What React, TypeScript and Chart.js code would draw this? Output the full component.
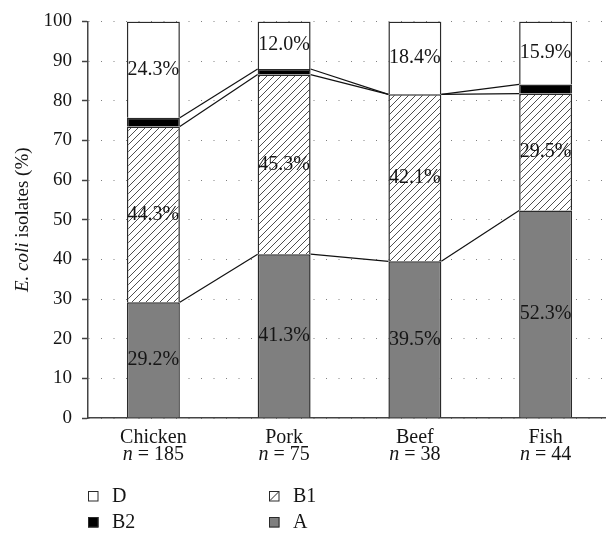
import React, { useEffect, useRef } from "react";
import { Chart, registerables } from "chart.js";

Chart.register(...registerables);

const categories = ["Chicken", "Pork", "Beef", "Fish"];
const sampleSizes = ["185", "75", "38", "44"];
const seriesNames = ["A", "B1", "B2", "D"];
const valuesA = [29.2, 41.3, 39.5, 52.3];
const valuesB1 = [44.3, 45.3, 42.1, 29.5];
const valuesB2 = [2.2, 1.4, 0, 2.3];
const valuesD = [24.3, 12.0, 18.4, 15.9];
const yTickValues = [0, 10, 20, 30, 40, 50, 60, 70, 80, 90, 100];
const yTitleItalic = "E. coli";
const yTitleRest = " isolates (%)";
const legendColumns = [
  ["D", "B2"],
  ["B1", "A"],
];

const FONT = '"Liberation Serif", "DejaVu Serif", serif';
const TEXT = "#151515";
const EDGE = "#2a2a2a";

function makeHatch(ctx: CanvasRenderingContext2D): CanvasPattern | string {
  const s = 7;
  const p = document.createElement("canvas");
  p.width = s;
  p.height = s;
  const c = p.getContext("2d");
  if (!c) return "#fff";
  c.fillStyle = "#ffffff";
  c.fillRect(0, 0, s, s);
  c.strokeStyle = "#222";
  c.lineWidth = 0.8;
  c.beginPath();
  c.moveTo(0, s);
  c.lineTo(s, 0);
  c.moveTo(-1, 1);
  c.lineTo(1, -1);
  c.moveTo(s - 1, s + 1);
  c.lineTo(s + 1, s - 1);
  c.stroke();
  return ctx.createPattern(p, "repeat") || "#fff";
}

type Part = { text: string; italic: boolean };

function drawMixed(
  ctx: CanvasRenderingContext2D,
  parts: Part[],
  cx: number,
  y: number,
  size: number
) {
  const fonts = parts.map((p) => `${p.italic ? "italic " : ""}${size}px ${FONT}`);
  let total = 0;
  const widths = parts.map((p, k) => {
    ctx.font = fonts[k];
    const w = ctx.measureText(p.text).width;
    total += w;
    return w;
  });
  let x = cx - total / 2;
  ctx.textAlign = "left";
  parts.forEach((p, k) => {
    ctx.font = fonts[k];
    ctx.fillText(p.text, x, y);
    x += widths[k];
  });
}

const decorPlugin = {
  id: "decor",
  afterDatasetsDraw(chart: any) {
    const ctx: CanvasRenderingContext2D = chart.ctx;
    ctx.save();
    // connecting lines between stacked segment tops
    ctx.strokeStyle = "#111";
    ctx.lineWidth = 1.2;
    for (let d = 0; d < 3; d++) {
      const meta = chart.getDatasetMeta(d);
      for (let i = 0; i < meta.data.length - 1; i++) {
        const a: any = meta.data[i];
        const b: any = meta.data[i + 1];
        ctx.beginPath();
        ctx.moveTo(a.x + a.width / 2, a.y);
        ctx.lineTo(b.x - b.width / 2, b.y);
        ctx.stroke();
      }
    }
    // value labels
    ctx.font = `20px ${FONT}`;
    ctx.fillStyle = TEXT;
    ctx.textAlign = "center";
    ctx.textBaseline = "middle";
    chart.data.datasets.forEach((ds: any, d: number) => {
      if (ds.label === "B2") return;
      const meta = chart.getDatasetMeta(d);
      meta.data.forEach((el: any, i: number) => {
        const v = ds.data[i] as number;
        ctx.fillText(v.toFixed(1) + "%", el.x, (el.y + el.base) / 2);
      });
    });
    ctx.restore();
  },
  afterDraw(chart: any) {
    const ctx: CanvasRenderingContext2D = chart.ctx;
    const area = chart.chartArea;
    const xs = chart.scales.x;
    ctx.save();
    ctx.fillStyle = TEXT;
    ctx.textBaseline = "alphabetic";
    // category labels
    categories.forEach((cat, i) => {
      const cx = xs.getPixelForValue(i);
      drawMixed(ctx, [{ text: cat, italic: false }], cx, area.bottom + 25, 20);
      drawMixed(
        ctx,
        [
          { text: "n", italic: true },
          { text: " = " + sampleSizes[i], italic: false },
        ],
        cx,
        area.bottom + 42,
        20
      );
    });
    // y axis title
    ctx.save();
    ctx.translate(28, (area.top + area.bottom) / 2);
    ctx.rotate(-Math.PI / 2);
    drawMixed(
      ctx,
      [
        { text: yTitleItalic, italic: true },
        { text: yTitleRest, italic: false },
      ],
      0,
      0,
      19
    );
    ctx.restore();
    // legend
    const colX = [88, 269];
    const rowBase = [area.bottom + 84, area.bottom + 110];
    legendColumns.forEach((col, c) => {
      col.forEach((name, r) => {
        const bx = colX[c];
        const by = rowBase[r] - 11;
        const bs = 10.5;
        const ds = chart.data.datasets.find((x: any) => x.label === name);
        ctx.lineWidth = 1;
        ctx.strokeStyle = EDGE;
        if (name === "B1") {
          ctx.fillStyle = "#fff";
          ctx.fillRect(bx, by, bs, bs);
          ctx.beginPath();
          ctx.moveTo(bx + 1, by + bs - 1);
          ctx.lineTo(bx + bs - 1, by + 1);
          ctx.stroke();
        } else {
          ctx.fillStyle = ds ? (ds.backgroundColor as string) : "#fff";
          ctx.fillRect(bx, by, bs, bs);
        }
        ctx.strokeRect(bx + 0.5, by + 0.5, bs - 1, bs - 1);
        ctx.fillStyle = TEXT;
        ctx.font = `20px ${FONT}`;
        ctx.textAlign = "left";
        ctx.fillText(name, bx + 24, rowBase[r]);
      });
    });
    ctx.restore();
  },
};

export default function App() {
  const ref = useRef<HTMLCanvasElement | null>(null);

  useEffect(() => {
    const canvas = ref.current;
    if (!canvas) return;
    const ctx = canvas.getContext("2d");
    if (!ctx) return;
    const hatch = makeHatch(ctx);
    const fills: Record<string, any> = {
      A: "#7f7f7f",
      B1: hatch,
      B2: "#000000",
      D: "#ffffff",
    };
    const valueSets = [valuesA, valuesB1, valuesB2, valuesD];

    const chart = new Chart(ctx, {
      type: "bar",
      data: {
        labels: categories,
        datasets: seriesNames.map((name, k) => ({
          label: name,
          data: valueSets[k],
          backgroundColor: fills[name],
          borderColor: EDGE,
          borderWidth: 1.5,
          barPercentage: 0.405,
          categoryPercentage: 1,
        })),
      },
      options: {
        animation: false,
        responsive: true,
        maintainAspectRatio: false,
        layout: { padding: { top: 19, right: 1, bottom: 0, left: 0 } },
        plugins: {
          legend: { display: false },
          tooltip: { enabled: false },
        },
        scales: {
          x: {
            type: "category",
            stacked: true,
            offset: true,
            grid: { display: false },
            border: { display: true, color: "#444", width: 1.5 },
            ticks: { display: false },
            afterFit: (scale: any) => {
              scale.height = 116;
            },
          },
          y: {
            type: "linear",
            stacked: true,
            min: 0,
            max: 100,
            afterBuildTicks: (scale: any) => {
              scale.ticks = yTickValues.map((v) => ({ value: v }));
            },
            afterFit: (scale: any) => {
              scale.width = 88;
            },
            ticks: {
              font: { family: FONT, size: 19 },
              color: TEXT,
              padding: 10,
            },
            grid: {
              color: "#808080",
              lineWidth: 1,
              tickLength: 6,
              tickColor: "#444",
              tickWidth: 1.5,
              tickBorderDash: [],
            } as any,
            border: { display: true, color: "#444", width: 1.5, dash: [1, 11.5] },
          },
        },
      },
      plugins: [decorPlugin],
    });
    return () => chart.destroy();
  }, []);

  return (
    <div
      style={{
        position: "absolute",
        left: 0,
        top: 0,
        width: 606,
        height: 534,
        overflow: "hidden",
        background: "#fff",
      }}
    >
      <div style={{ position: "relative", width: 612, height: 534 }}>
        <canvas ref={ref} />
      </div>
    </div>
  );
}
